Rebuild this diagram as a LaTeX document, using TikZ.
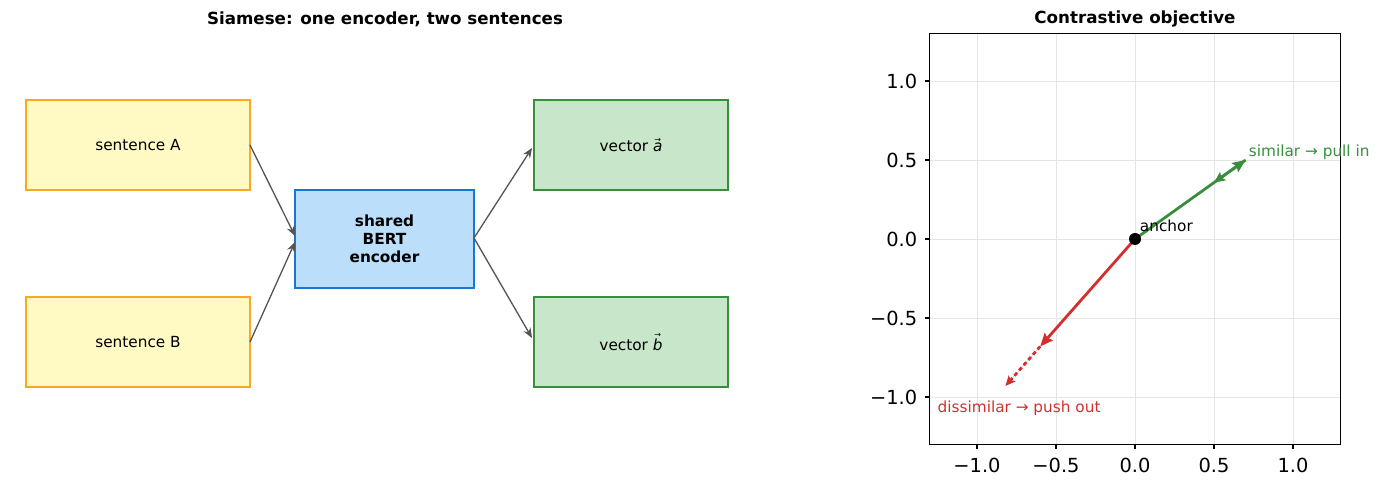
\documentclass[tikz,border=0pt]{standalone}
\usepackage{fontspec}
\setmainfont{DejaVu Sans}
\usetikzlibrary{
    arrows.meta,
    positioning
}

\definecolor{sentfill}{HTML}{FFF9C4}
\definecolor{sentline}{HTML}{F9A825}
\definecolor{encfill}{HTML}{BBDEFB}
\definecolor{encline}{HTML}{1976D2}
\definecolor{vecfill}{HTML}{C8E6C9}
\definecolor{vecline}{HTML}{388E3C}
\definecolor{pushred}{HTML}{D32F2F}
\definecolor{linkgray}{HTML}{555555}

\newcommand{\boxfont}{\fontsize{15.3}{18}\selectfont}
\newcommand{\titlefont}{\fontsize{16.7}{20}\selectfont\bfseries}
\newcommand{\tickfont}{\fontsize{19.4}{22}\selectfont}
% letter with a small arrow above it
\newcommand{\arrowvec}[1]{\leavevmode\setbox0=\hbox{\itshape #1}%
    \rlap{\hbox to\wd0{\hss\raisebox{\dimexpr\ht0+0.4pt\relax}{\fontsize{8}{8}\selectfont →}\hss}}\box0}

\begin{document}
\begin{tikzpicture}[x=1pt,y=1pt,
    box/.style={draw,line width=2.8pt,inner sep=0pt,outer sep=0pt,
        minimum width=224pt,minimum height=90pt,font=\boxfont,align=center},
    sentbox/.style={box,fill=sentfill,draw=sentline},
    encbox/.style={box,fill=encfill,draw=encline,minimum width=179pt,
        minimum height=98pt,font=\boxfont\bfseries},
    vecbox/.style={box,fill=vecfill,draw=vecline,minimum width=194pt},
    paneltitle/.style={font=\titlefont},
    link/.style={draw=linkgray,line width=1.3pt,
        -{Stealth[length=10pt,width=8pt]},fill=linkgray},
    simvec/.style={draw=vecline,line width=2.8pt,
        -{Stealth[length=13pt,width=11pt,inset=2pt]},fill=vecline},
    negvec/.style={draw=pushred,line width=2.8pt,
        -{Stealth[length=13pt,width=11pt,inset=2pt]},fill=pushred}
]

\useasboundingbox (0,0) rectangle (1379,485);

% Left panel: siamese encoder
\node[paneltitle] (lefttitle) at (385,466) {Siamese: one encoder, two sentences};

\node[sentbox] (sa) at (138,340) {sentence A};
\node[sentbox,below=107pt of sa] (sb) {sentence B};

\node[encbox] (enc) at (384.5,246) {shared\\BERT\\encoder};

\node[vecbox] (va) at (631,340) {vector \arrowvec{a}};
\node[vecbox,below=107pt of va] (vb) {vector \arrowvec{b}};

\draw[link] (sa.east) -- ([yshift=3pt]enc.west);
\draw[link] (sb.east) -- ([yshift=-3pt]enc.west);
\draw[link] ([yshift=1pt]enc.east) -- ([xshift=-2pt,yshift=-3pt]va.west);
\draw[link] ([yshift=1pt]enc.east) -- ([xshift=-2pt,yshift=4pt]vb.west);

% Right panel: contrastive objective
\node[paneltitle] (righttitle) at (1135,466) {Contrastive objective};

\begin{scope}[shift={(1135pt,246pt)},x=158pt,y=158pt]

% Grid
\foreach \t in {-1,-0.5,0,0.5,1} {
    \draw[black!10,line width=0.9pt] (\t,-1.3) -- (\t,1.3);
    \draw[black!10,line width=0.9pt] (-1.3,\t) -- (1.3,\t);
}

% Frame
\draw[line width=1.2pt] (-1.3,-1.3) rectangle (1.3,1.3);

% Ticks
\foreach \t/\lab in {-1/−1.0,-0.5/−0.5,0/0.0,0.5/0.5,1/1.0} {
    \draw[line width=1.2pt] (\t,-1.3) -- ++(0,-4.9pt)
        node[below=8pt,inner sep=0pt,font=\tickfont] {\lab};
    \draw[line width=1.2pt] (-1.3,\t) -- ++(-4.9pt,0)
        node[left=7pt,inner sep=0pt,font=\tickfont] {\lab};
}

% Vectors
\coordinate (anc) at (0,0);
\coordinate (pos) at (0.7,0.5);
\coordinate (pull) at (0.5,0.357);
\coordinate (neg) at (-0.6,-0.68);
\coordinate (push) at (-0.82,-0.93);

\draw[simvec] (anc) -- (pos);
\draw[simvec,-{Stealth[length=11pt,width=10pt,inset=2pt]}] (pos) -- (pull);
\draw[negvec] (anc) -- (neg);
\draw[negvec,dash pattern=on 4pt off 3pt,-{Stealth[length=10pt,width=9pt,inset=2pt]}] (neg) -- (push);

\fill (anc) circle (6pt);

% Labels
\node[right,inner sep=0pt,font=\boxfont] (anclab) at (0.03,0.085) {anchor};
\node[right,inner sep=0pt,font=\boxfont,text=vecline] (simlab) at (0.72,0.55) {similar → pull in};
\node[right,inner sep=0pt,font=\boxfont,text=pushred] (neglab) at (-1.25,-1.07) {dissimilar → push out};

\end{scope}

\end{tikzpicture}
\end{document}
